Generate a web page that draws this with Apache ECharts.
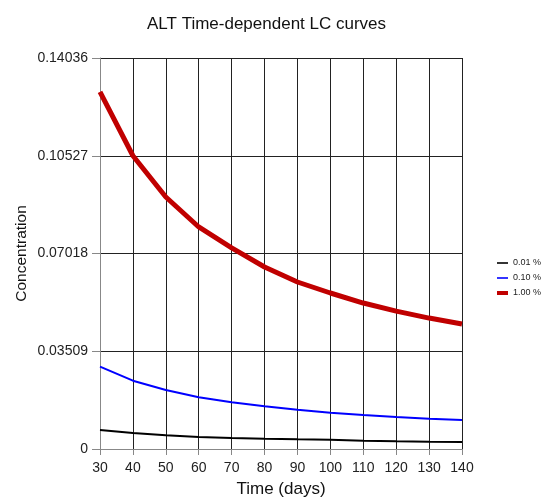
<!DOCTYPE html>
<html>
<head>
<meta charset="utf-8">
<script src="https://cdn.jsdelivr.net/npm/echarts@6/dist/echarts.min.js"></script>
<style>
  html, body { margin: 0; padding: 0; background: #fff; }
  #chart { width: 547px; height: 497px; }
</style>
</head>
<body>
<div id="chart"></div>
<script>
const days = [30, 40, 50, 60, 70, 80, 90, 100, 110, 120, 130, 140];
const low = [0.00682, 0.00574, 0.00491, 0.00431, 0.00395, 0.0037, 0.00348, 0.00334, 0.00298, 0.00276, 0.00262, 0.00251];
const mid = [0.02955, 0.02452, 0.02118, 0.01855, 0.01676, 0.01532, 0.01412, 0.01304, 0.0122, 0.01149, 0.01089, 0.01041];
const high = [0.1282, 0.10527, 0.09046, 0.0797, 0.0722, 0.06533, 0.05995, 0.0560, 0.0524, 0.0495, 0.0470, 0.0449];
const seriesNames = ["0.01 %", "0.10 %", "1.00 %"];
const yMax = 0.14036;
const yStep = 0.03509;

// legend icons: a thin or thick bar inside a 11x10 box
const thinBar = "path://M0,0M0,4.2H11V5.8H0ZM11,10";
const thickBar = "path://M0,0M0,3H11V7H0ZM11,10";

const pairs = (values) => days.map((d, i) => [d, values[i]]);

const chart = echarts.init(document.getElementById("chart"), null, { renderer: "canvas" });

chart.setOption({
  animation: false,
  textStyle: { fontFamily: "Liberation Sans, Arial, sans-serif" },
  title: {
    text: "ALT Time-dependent LC curves",
    left: 142,
    top: 11,
    textStyle: { fontSize: 17, fontWeight: "normal", color: "#111" }
  },
  grid: { left: 100, right: 85, top: 58, bottom: 48, outerBoundsMode: "none" },
  legend: {
    orient: "vertical",
    left: 492,
    top: 253,
    itemWidth: 11,
    itemHeight: 10,
    itemGap: 5,
    data: [
      { name: seriesNames[0], icon: thinBar },
      { name: seriesNames[1], icon: thinBar },
      { name: seriesNames[2], icon: thickBar }
    ],
    textStyle: { fontSize: 9, color: "#222" }
  },
  xAxis: {
    type: "value",
    min: 30,
    max: 140,
    interval: 10,
    name: "Time (days)",
    nameLocation: "middle",
    nameGap: 32,
    nameMoveOverlap: false,
    nameTextStyle: { fontSize: 17, color: "#111" },
    axisLine: { show: true, lineStyle: { color: "#888" } },
    axisTick: { show: true, length: 6, lineStyle: { color: "#888" } },
    axisLabel: { fontSize: 14, color: "#222", margin: 12 },
    splitLine: { show: true, lineStyle: { color: "#222" } }
  },
  yAxis: {
    type: "value",
    min: 0,
    max: yMax,
    interval: yStep,
    name: "Concentration",
    nameLocation: "middle",
    nameGap: 70,
    nameMoveOverlap: false,
    nameTextStyle: { fontSize: 15.5, color: "#111" },
    axisLine: { show: true, lineStyle: { color: "#888" } },
    axisTick: { show: true, length: 8, lineStyle: { color: "#888" } },
    axisLabel: {
      fontSize: 14,
      color: "#222",
      margin: 12,
      formatter: (v) => (v === 0 ? "0" : v.toFixed(5))
    },
    splitLine: { show: true, lineStyle: { color: "#222" } }
  },
  series: [
    {
      name: seriesNames[0],
      type: "line",
      symbol: "none",
      data: pairs(low),
      lineStyle: { color: "#000", width: 2 },
      itemStyle: { color: "#000" }
    },
    {
      name: seriesNames[1],
      type: "line",
      symbol: "none",
      data: pairs(mid),
      lineStyle: { color: "#0000ff", width: 2 },
      itemStyle: { color: "#0000ff" }
    },
    {
      name: seriesNames[2],
      type: "line",
      symbol: "none",
      data: pairs(high),
      lineStyle: { color: "#c00000", width: 5 },
      itemStyle: { color: "#c00000" }
    }
  ]
});
</script>
</body>
</html>
